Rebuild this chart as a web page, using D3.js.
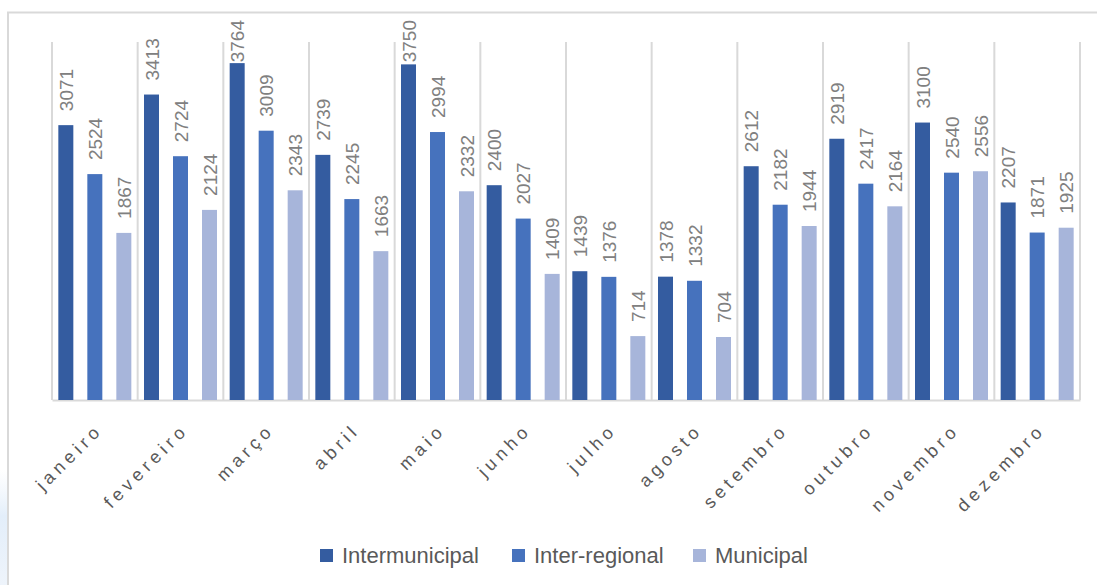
<!DOCTYPE html>
<html>
<head>
<meta charset="utf-8">
<script src="https://cdn.jsdelivr.net/npm/d3@7"></script>
<style>
  html, body { margin: 0; padding: 0; background: #ffffff; }
  svg { display: block; }
</style>
</head>
<body>
<script>
const months = ["janeiro","fevereiro","março","abril","maio","junho","julho","agosto","setembro","outubro","novembro","dezembro"];
const seriesNames = ["Intermunicipal","Inter-regional","Municipal"];
const intermunicipal = [3071,3413,3764,2739,3750,2400,1439,1378,2612,2919,3100,2207];
const interRegional  = [2524,2724,3009,2245,2994,2027,1376,1332,2182,2417,2540,1871];
const municipal      = [1867,2124,2343,1663,2332,1409,714,704,1944,2164,2556,1925];
const colors = ["#345ca0","#4672bd","#a7b5da"];

const W = 1097, H = 585;
const svg = d3.select("body").append("svg").attr("width", W).attr("height", H);

// faint blue tint at bottom-left edge
const grad = svg.append("defs").append("linearGradient").attr("id","tint").attr("x1","0").attr("x2","0").attr("y1","0").attr("y2","1");
grad.append("stop").attr("offset","0").attr("stop-color","#eaf2fb").attr("stop-opacity",0);
grad.append("stop").attr("offset","0.4").attr("stop-color","#e3eefa").attr("stop-opacity",1);
grad.append("stop").attr("offset","1").attr("stop-color","#eef4fb").attr("stop-opacity",1);
svg.append("rect").attr("x",0).attr("y",470).attr("width",7).attr("height",115).attr("fill","url(#tint)");

// outer chart border (extends beyond the visible picture on right/bottom)
svg.append("rect").attr("x",8).attr("y",12.5).attr("width",1100).attr("height",600)
  .attr("fill","none").attr("stroke","#d9d9d9").attr("stroke-width",2);

const plot = {left: 52, right: 1080, top: 42, bottom: 400};
const x0 = d3.scaleBand().domain(months).range([plot.left, plot.right]).paddingInner(0).paddingOuter(0);
const y = d3.scaleLinear().domain([0, 4000]).range([plot.bottom, plot.top]);

const barW = 15, step = 29;
const x1 = d3.scaleOrdinal().domain([0,1,2]).range([0, step, 2*step]);
const pad = (x0.bandwidth() - (barW + 2*step)) / 2;

// category separators
const seps = d3.range(months.length + 1).map(i => plot.left + i * x0.bandwidth());
svg.append("g").selectAll("line").data(seps).join("line")
  .attr("x1", d => d).attr("x2", d => d)
  .attr("y1", plot.top).attr("y2", plot.bottom)
  .attr("stroke", "#d9d9d9").attr("stroke-width", 2);

// baseline axis
const xAxis = d3.axisBottom(x0).tickSize(0).tickFormat("");
const gx = svg.append("g").attr("transform", `translate(0,${plot.bottom})`).call(xAxis);
gx.select(".domain").attr("stroke", "#d9d9d9").attr("stroke-width", 2);

const series = [intermunicipal, interRegional, municipal];
const data = [];
months.forEach((m, i) => series.forEach((s, k) => data.push({m, k, v: s[i]})));

// bars
svg.append("g").selectAll("rect").data(data).join("rect")
  .attr("x", d => x0(d.m) + pad + x1(d.k))
  .attr("y", d => y(d.v))
  .attr("width", barW)
  .attr("height", d => y(0) - y(d.v))
  .attr("fill", d => colors[d.k]);

// data labels (rotated)
const labels = svg.append("g").selectAll("text").data(data).join("text")
  .text(d => d.v)
  .attr("font-family", "'Liberation Sans', Arial, sans-serif")
  .attr("font-size", 19)
  .attr("fill", "#808080")
  .attr("dominant-baseline", "central")
  .attr("text-anchor", "start");
labels.each(function(d) {
  const len = this.getComputedTextLength();
  const cx = x0(d.m) + pad + x1(d.k) + barW / 2 + 0.5;
  let yy = y(d.v) - 14;
  if (yy - len < 20) yy = 20 + len;
  d3.select(this).attr("transform", `translate(${cx},${yy}) rotate(-90)`);
});

// category labels
svg.append("g").selectAll("text").data(months).join("text")
  .text(d => d)
  .attr("font-family", "'Liberation Sans', Arial, sans-serif")
  .attr("font-size", 18)
  .attr("letter-spacing", "4.5px")
  .attr("fill", "#595959")
  .attr("text-anchor", "end")
  .attr("transform", d => `translate(${x0(d) + x0.bandwidth()/2 + 9},${431}) rotate(-45)`);

// legend
const legendItems = [
  {name: seriesNames[0], x: 320, c: colors[0]},
  {name: seriesNames[1], x: 512, c: colors[1]},
  {name: seriesNames[2], x: 693, c: colors[2]}
];
const lg = svg.append("g");
legendItems.forEach(it => {
  lg.append("rect").attr("x", it.x).attr("y", 549).attr("width", 13).attr("height", 13).attr("fill", it.c);
  lg.append("text").attr("x", it.x + 22).attr("y", 563)
    .attr("font-family", "'Liberation Sans', Arial, sans-serif")
    .attr("font-size", 22).attr("fill", "#595959").text(it.name);
});
</script>
</body>
</html>
